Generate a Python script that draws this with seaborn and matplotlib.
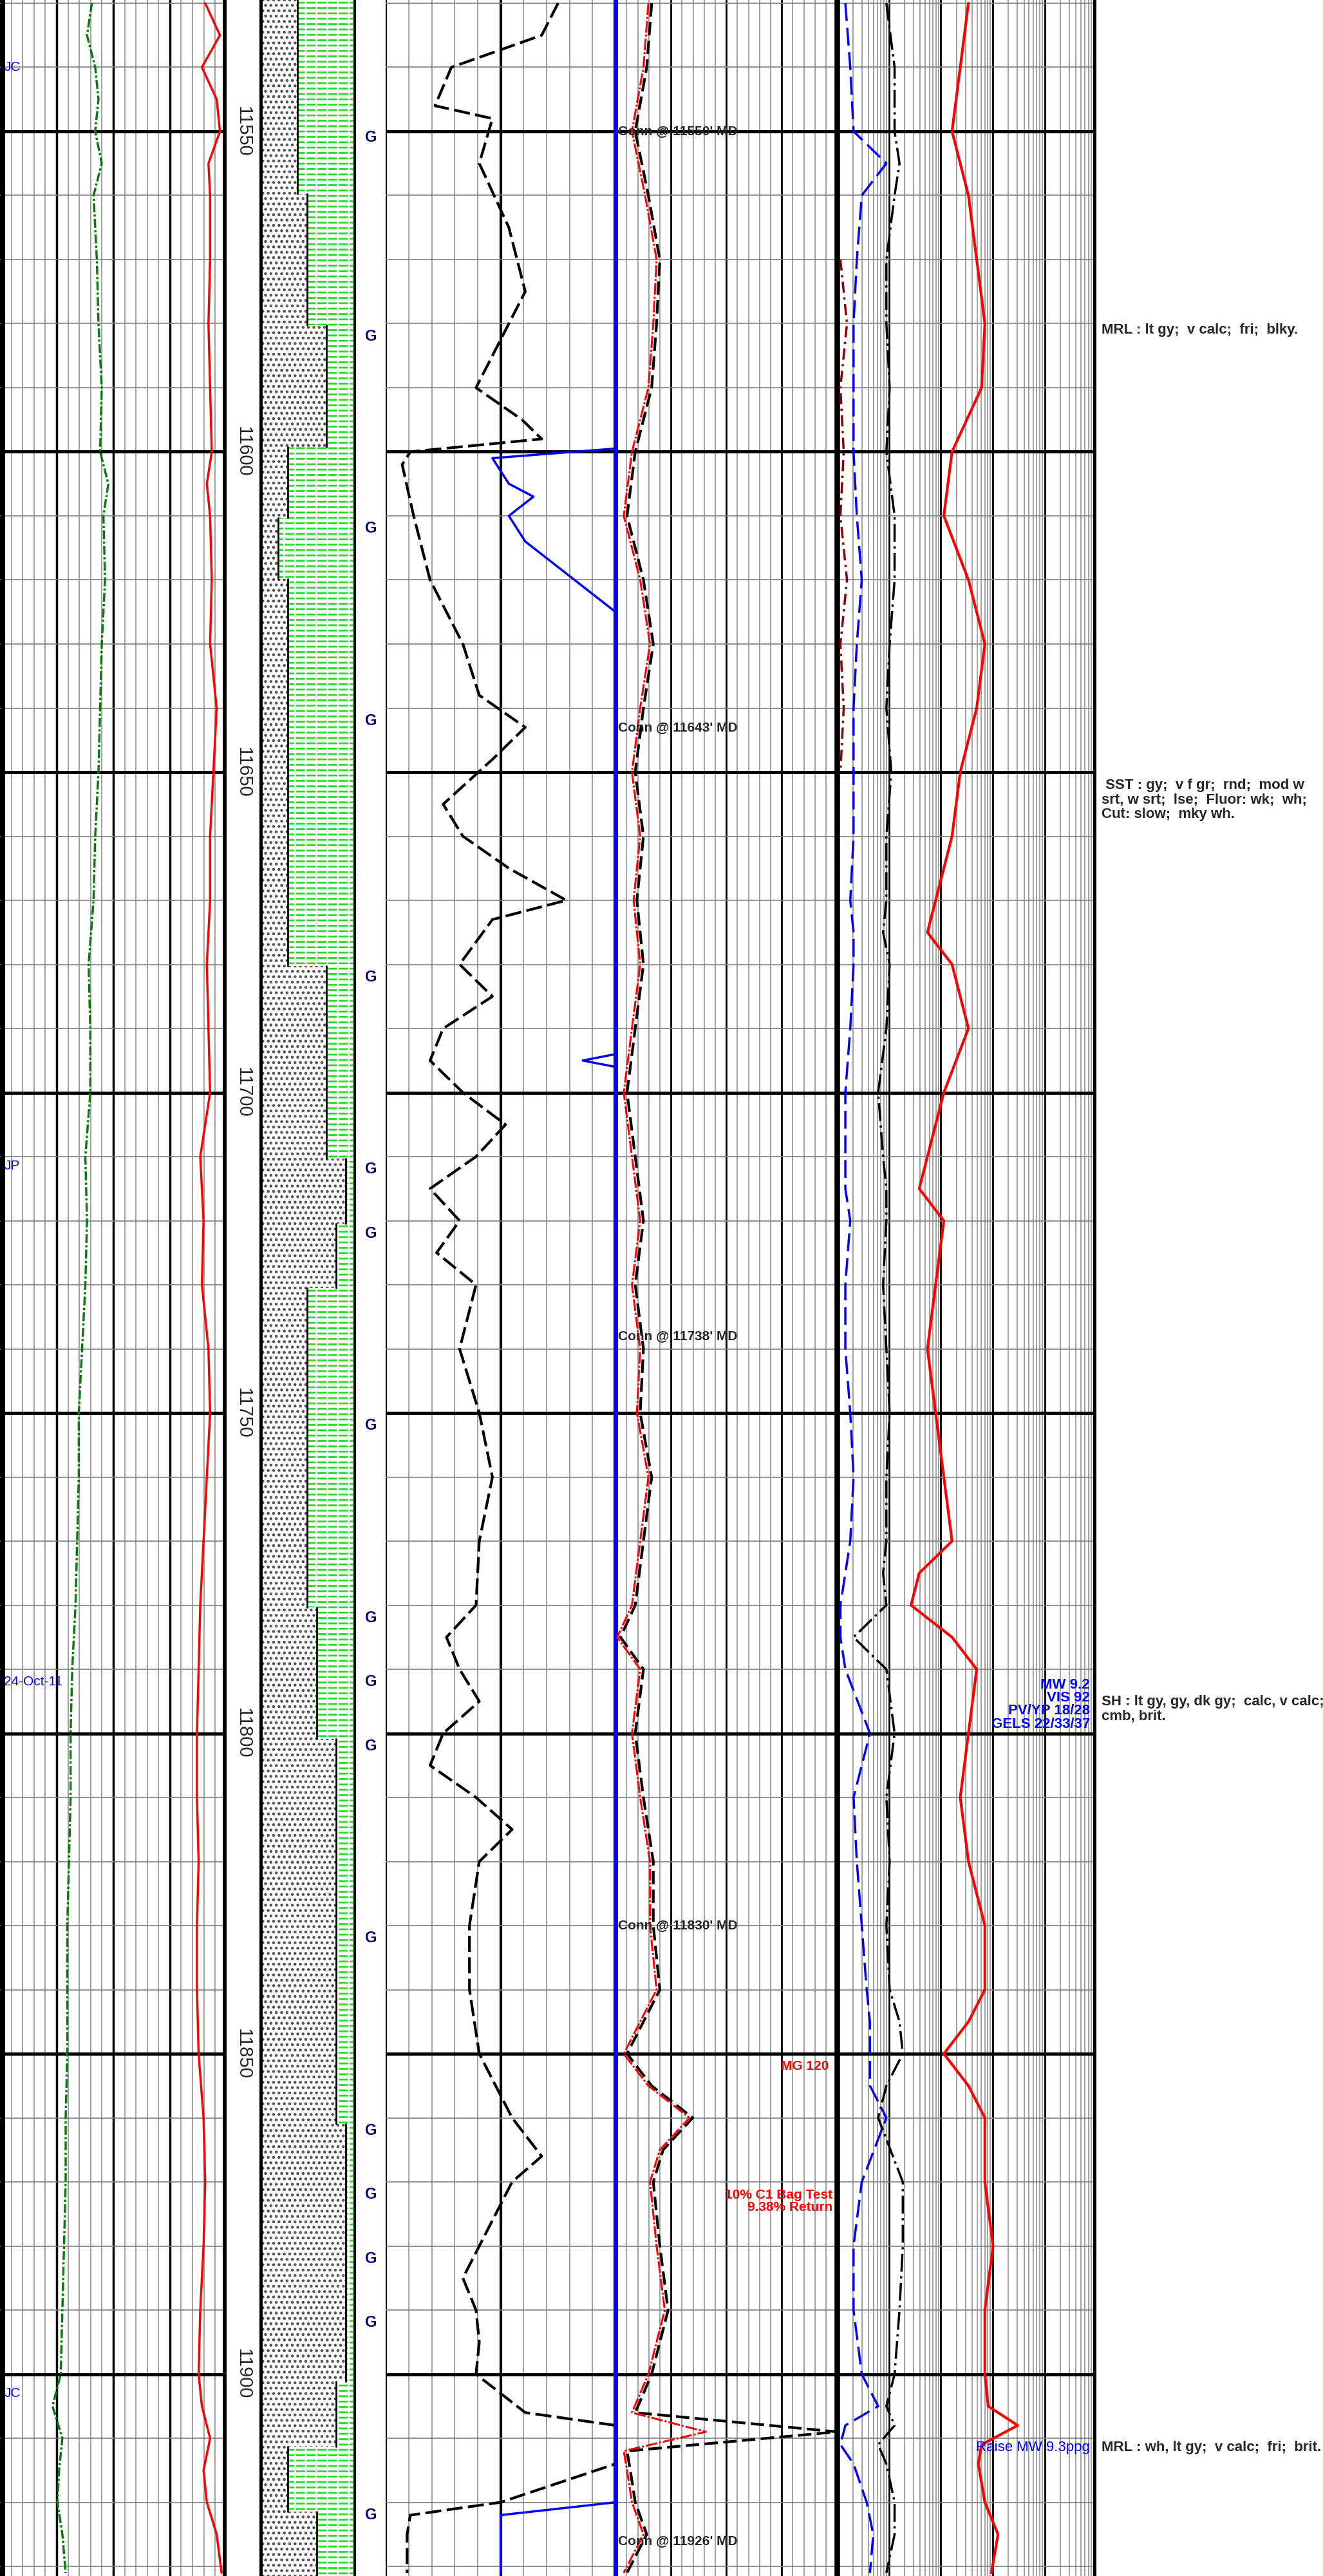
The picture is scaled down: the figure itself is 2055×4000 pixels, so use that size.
import numpy as np
import matplotlib
matplotlib.use("Agg")
import matplotlib.pyplot as plt
import seaborn as sns
import pandas as pd

sns.set_theme(style="white")
plt.rcParams['font.family'] = ['Liberation Sans Narrow', 'Liberation Sans', 'DejaVu Sans']
plt.rcParams['hatch.linewidth'] = 2.0

TOP, BOT = 11529.5, 11931.5

# ---- data (x values in chart track units) ----
gr_depth = [11530,11535,11540,11545,11550,11555,11560,11570,11580,11590,11600,11605,11610,11620,11630,11640,11650,11660,11670,11680,11690,11700,11710,11720,11730,11740,11750,11760,11770,11780,11790,11800,11810,11820,11830,11840,11850,11860,11870,11880,11890,11900,11905,11910,11915,11920,11925,11931]
gr_green = [56,53,58,60,58,62,57,59,60,62,61,66,63,64,62,61,60,58,57,54,55,55,52,53,52,50,48,48,47,46,44,43,43,42,41,41,41,40,40,39,38,37,32,38,36,35,38,40]
gr_red   = [125,134,123,132,134,127,128,128,127,128,129,126,128,129,128,132,130,128,128,126,127,128,122,124,123,127,128,126,124,122,121,120,120,121,120,120,121,124,125,124,122,121,123,128,124,126,132,135]

rop_depth = [11530,11535,11540,11546,11548,11555,11565,11575,11585,11590,11595,11598,11600,11602,11610,11620,11630,11638,11643,11648,11655,11660,11665,11670,11673,11680,11685,11690,11695,11700,11705,11710,11715,11720,11725,11730,11740,11750,11760,11770,11780,11785,11790,11795,11800,11805,11810,11815,11820,11830,11840,11850,11860,11866,11870,11875,11880,11885,11890,11895,11900,11906,11908,11911,11914,11920,11922,11925,11931]
rop_black= [340,330,275,265,300,292,310,320,300,290,318,330,250,245,252,262,282,292,320,300,270,282,310,345,300,280,300,270,262,282,308,290,262,280,266,290,280,292,300,292,290,272,280,292,270,262,290,312,292,286,286,292,312,330,312,302,292,282,290,292,290,320,375,375,375,305,250,248,248]

blue3_depth = [11530,11599.5,11601,11605,11607,11610,11614,11620,11625,11690,11694,11695,11696,11700,11920,11922,11925,11931]
blue3_val   = [375,375,300,310,325,310,320,350,375,375,375,355,375,375,375,305,305,305]

gas_depth = [11530,11540,11550,11560,11570,11580,11590,11600,11610,11620,11630,11640,11650,11660,11670,11680,11690,11700,11710,11720,11730,11740,11750,11760,11770,11780,11785,11790,11800,11810,11820,11830,11840,11845,11850,11855,11860,11865,11870,11880,11890,11900,11906,11909,11912,11915,11920,11925,11931]
gas_red   = [395,392,385,393,400,398,395,385,380,390,396,390,385,390,386,390,385,380,385,390,385,390,388,395,390,385,376,390,385,390,396,396,400,390,380,395,420,402,396,400,405,395,385,430,380,382,385,392,380]
gas_black = [397,394,387,395,402,400,397,387,382,392,398,392,387,392,388,392,387,382,387,392,387,392,390,397,392,387,378,392,387,392,398,398,402,392,382,397,422,404,398,402,407,397,387,510,382,384,387,394,382]

t5_depth = [11530,11540,11550,11555,11560,11570,11580,11590,11600,11610,11620,11630,11640,11650,11660,11670,11675,11680,11690,11700,11710,11715,11720,11730,11740,11750,11760,11770,11775,11780,11785,11790,11800,11810,11820,11830,11840,11845,11850,11855,11860,11870,11880,11890,11900,11905,11908,11911,11914,11920,11925,11931]
t5_red   = [590,585,580,585,590,595,600,598,580,575,590,600,595,585,580,570,565,580,590,575,565,560,575,570,565,570,575,580,560,555,580,595,590,585,590,600,600,590,575,590,600,600,605,600,600,602,620,598,596,600,608,604]
t5_blue  = [515,518,520,540,525,522,520,520,520,522,525,522,520,520,520,518,520,520,518,515,515,515,518,515,515,518,520,518,515,512,512,515,530,520,522,525,528,530,530,530,540,525,520,520,525,535,515,512,520,528,532,530]
t5_black = [540,545,545,548,545,540,540,542,540,545,545,542,540,543,540,540,538,542,540,535,538,540,540,538,540,542,540,540,538,540,520,540,545,540,542,540,542,548,550,540,535,550,550,548,545,540,545,535,540,545,545,540]

red_dd_depth = [11570,11580,11590,11600,11610,11620,11630,11640,11650]
red_dd_val   = [512,516,512,514,512,516,512,514,512]

litho_top = [11529.5,11559.8,11580.3,11599.2,11610.3,11619.8,11680.3,11710.3,11720.5,11730.5,11780.3,11800.8,11860.9,11901.1,11911.3,11921.5]
litho_sand = [181.3,187.2,199.0,175.5,169.6,175.5,199.0,210.8,204.9,187.2,193.1,204.9,210.8,204.9,175.5,193.1]

g_depths = [11551,11582,11612,11642,11682,11712,11722,11752,11782,11792,11802,11832,11862,11872,11882,11892,11922]
depth_labels = [11550,11600,11650,11700,11750,11800,11850,11900]
conn_depths = [11550,11643,11738,11830,11926]

# ---- layout (display-unit track edges) ----
W = 806.0
fig = plt.figure(figsize=(20.55, 40), dpi=100)
def track(l, r):
    ax = fig.add_axes([l / W, 0, (r - l) / W, 1])
    ax.set_xlim(l, r); ax.set_ylim(BOT, TOP)
    ax.axis('off')
    return ax

def hgrid(ax, l, r):
    for d in range(11530, 11932, 10):
        major = d % 50 == 0
        ax.plot([l, r], [d, d], color='black' if major else '#808080',
                lw=3.5 if major else 1.2, zorder=1)

# Track 1
a1 = track(0, 138)
for i, x in enumerate(np.linspace(0, 138, 21)):
    a1.axvline(x, color='black' if i % 5 == 0 else '#909090', lw=2.5 if i % 5 == 0 else 1.2, zorder=0)
hgrid(a1, 0, 138)
a1.axvline(1.5, color='black', lw=5); a1.axvline(137, color='black', lw=5)
sns.lineplot(x=gr_green, y=gr_depth, sort=False, estimator=None, ax=a1, color='#0a7a0a', lw=2.5, linestyle=(0, (4, 1, 1, 1)))
sns.lineplot(x=gr_red, y=gr_depth, sort=False, estimator=None, ax=a1, color='red', lw=2.5)
for txt, d in [('JC', 11540), ('JP', 11711.5), ('24-Oct-11', 11792), ('JC', 11903)]:
    a1.text(2.5, d, txt, color='blue', fontsize=15, va='center', ha='left', family=['Liberation Sans', 'DejaVu Sans'])

# Depth column
ad = track(138, 158)
for d in depth_labels:
    ad.text(148, d, str(d), rotation=-90, ha='center', va='center', fontsize=21, family=['Liberation Sans', 'DejaVu Sans'])

# Lithology
al = track(158, 217)
bounds = litho_top + [BOT]
for i in range(len(litho_top)):
    d0, d1, s = bounds[i], bounds[i + 1], litho_sand[i]
    al.fill_betweenx([d0, d1], 158, s, facecolor='white', edgecolor='#505050', hatch='..', lw=0)
    al.fill_betweenx([d0, d1], s, 217, facecolor='white', edgecolor='#22dd22', hatch='--', lw=0)
    al.fill_betweenx([d0, d1], s, 217, facecolor='none', edgecolor='white', hatch='|', lw=0)
    al.plot([s, s], [d0, d1], color='black', lw=2)
al.axvline(158.5, color='black', lw=5); al.axvline(216.5, color='black', lw=5)

# G column
ag = track(217, 235)
for d in g_depths:
    ag.text(226, d, 'G', color='#000080', fontsize=17, fontweight='bold', ha='center', va='center')

# Track 3
a3 = track(235, 375)
for i, x in enumerate(np.linspace(235, 375, 11)):
    a3.axvline(x, color='black' if i in (0, 5, 10) else '#909090', lw=3 if i in (0, 5) else 1.2, zorder=0)
hgrid(a3, 235, 375)
sns.lineplot(x=rop_black, y=rop_depth, sort=False, estimator=None, ax=a3, color='black', lw=3, linestyle=(0, (6, 2)))
sns.lineplot(x=blue3_val, y=blue3_depth, sort=False, estimator=None, ax=a3, color='blue', lw=2.5)
a3.axvline(374.5, color='blue', lw=3)

# Track 4
a4 = track(375, 510)
for i, x in enumerate(np.linspace(375, 510, 21)):
    a4.axvline(x, color='black' if i % 5 == 0 else '#909090', lw=2 if i % 5 == 0 else 1.2, zorder=0)
hgrid(a4, 375, 510)
a4.axvline(375.6, color='blue', lw=3); a4.axvline(509.5, color='black', lw=4)
sns.lineplot(x=gas_black, y=gas_depth, sort=False, estimator=None, ax=a4, color='black', lw=3, linestyle=(0, (5, 2)))
sns.lineplot(x=gas_red, y=gas_depth, sort=False, estimator=None, ax=a4, color='red', lw=2.2, linestyle=(0, (6, 1, 1, 1)))
for d in conn_depths:
    a4.text(376.5, d, "Conn @ %d' MD" % d, fontsize=15, fontweight='bold', va='center', ha='left', zorder=5)
a4.text(505, 11852, 'MG 120', color='red', fontsize=15, fontweight='bold', ha='right', va='center')
a4.text(507, 11873, '10% C1 Bag Test\n9.38% Return', color='red', fontsize=15, fontweight='bold', ha='right', va='center', linespacing=1.0)

# Track 5 (log grid, 5 cycles)
a5 = track(510, 668)
cyc = (668 - 510) / 5
for c in range(5):
    for m in range(1, 10):
        x = 510 + cyc * (c + np.log10(m))
        a5.axvline(x, color='black' if m == 1 else '#909090', lw=2 if m == 1 else 1.2, zorder=0)
hgrid(a5, 510, 668)
a5.axvline(510.5, color='black', lw=4); a5.axvline(667, color='black', lw=5)
sns.lineplot(x=red_dd_val, y=red_dd_depth, sort=False, estimator=None, ax=a5, color='#8b0000', lw=2.5, linestyle=(0, (5, 2, 1, 2)))
sns.lineplot(x=t5_blue, y=t5_depth, sort=False, estimator=None, ax=a5, color='blue', lw=2.5, linestyle=(0, (8, 3)))
sns.lineplot(x=t5_black, y=t5_depth, sort=False, estimator=None, ax=a5, color='black', lw=2.5, linestyle=(0, (8, 2, 1, 2)))
sns.lineplot(x=t5_red, y=t5_depth, sort=False, estimator=None, ax=a5, color='red', lw=3)
a5.text(664, 11795.5, 'MW 9.2\nVIS 92\nPV/YP 18/28\nGELS 22/33/37', color='blue', fontsize=16, fontweight='bold', ha='right', va='center', linespacing=0.95)
a5.text(664, 11911.5, 'Raise MW 9.3ppg', color='blue', fontsize=16, ha='right', va='center')

# Text column
at = track(668, 806)
descs = [(11581, "MRL : lt gy;  v calc;  fri;  blky."),
         (11651, " SST : gy;  v f gr;  rnd;  mod w\nsrt, w srt;  lse;  Fluor: wk;  wh;\nCut: slow;  mky wh."),
         (11794, "SH : lt gy, gy, dk gy;  calc, v calc;\ncmb, brit."),
         (11911.5, "MRL : wh, lt gy;  v calc;  fri;  brit.")]
for d, t in descs:
    at.text(671, d, t, fontsize=16, fontweight='bold', ha='left', va='top' if '\n' in t else 'center', linespacing=1.1)

fig.savefig('out.png', dpi=100, facecolor='white')
